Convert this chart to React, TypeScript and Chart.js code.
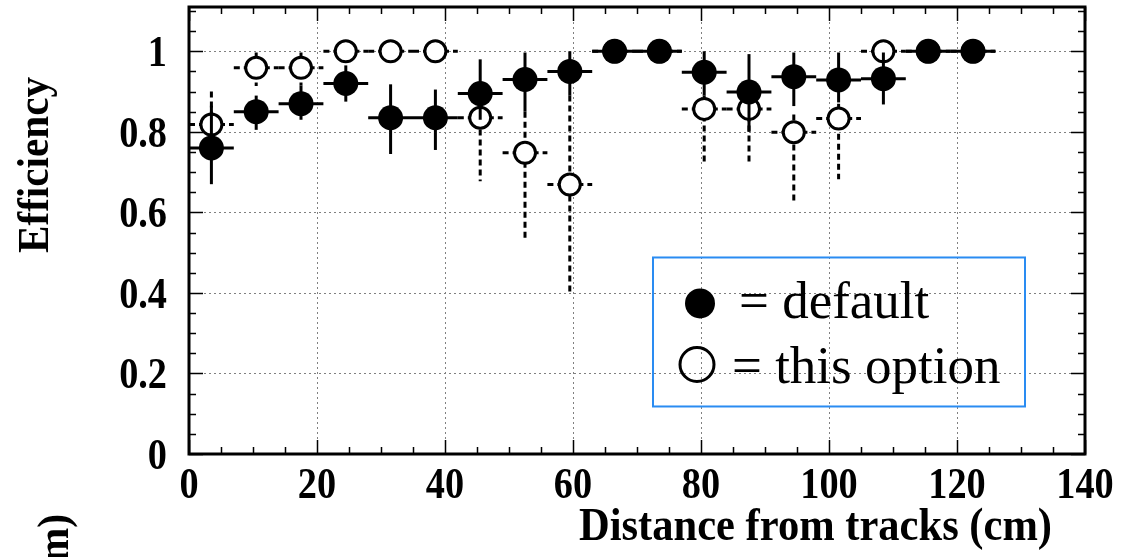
import { useEffect, useRef } from "react";
import { Chart, registerables } from "chart.js";

Chart.register(...registerables);

// ---- data ----
const BIN_CENTERS = [3.5, 10.5, 17.5, 24.5, 31.5, 38.5, 45.5, 52.5, 59.5, 66.5, 73.5, 80.5, 87.5, 94.5, 101.5, 108.5, 115.5, 122.5];
const BIN_HALF_WIDTH = 3.5;

const DEFAULT_EFF = [0.76, 0.85, 0.87, 0.92, 0.835, 0.835, 0.895, 0.93, 0.95, 1.0, 1.0, 0.948, 0.899, 0.937, 0.929, 0.932, 1.0, 1.0];
const DEFAULT_LOW = [0.67, 0.805, 0.83, 0.875, 0.745, 0.755, 0.83, 0.85, 0.89, 1.0, 1.0, 0.89, 0.8, 0.864, 0.873, 0.868, 1.0, 1.0];
const DEFAULT_HIGH = [0.865, 0.89, 0.915, 0.965, 0.918, 0.905, 0.98, 0.997, 1.0, 1.0, 1.0, 1.0, 0.993, 0.997, 0.997, 0.997, 1.0, 1.0];

const OPTION_EFF = [0.818, 0.959, 0.959, 1.0, 1.0, 1.0, 0.835, 0.748, 0.669, 1.0, 1.0, 0.857, 0.857, 0.799, 0.833, 1.0, 1.0, 1.0];
const OPTION_LOW = [0.73, 0.914, 0.915, 1.0, 1.0, 1.0, 0.677, 0.537, 0.395, 1.0, 1.0, 0.723, 0.724, 0.624, 0.682, 1.0, 1.0, 1.0];
const OPTION_HIGH = [0.9, 0.997, 0.997, 1.0, 1.0, 1.0, 0.88, 0.85, 0.89, 1.0, 1.0, 0.89, 0.89, 0.843, 0.87, 1.0, 1.0, 1.0];

const X_TICKS = [0, 20, 40, 60, 80, 100, 120, 140];
const Y_TICKS = [0, 0.2, 0.4, 0.6, 0.8, 1];
const X_MINOR_STEP = 5;
const Y_MINOR_STEP = 0.05;

const X_TITLE = "Distance from tracks (cm)";
const Y_TITLE = "Efficiency";
const CUT_TITLE = "(cm)";
const LEGEND_DEFAULT = "= default";
const LEGEND_OPTION = "= this option";

// ---- styles ----
const SERIF = '"Liberation Serif", "Times New Roman", serif';
const TICK_FONT = `bold 44px ${SERIF}`;
const TITLE_FONT = `bold 46px ${SERIF}`;
const YTITLE_FONT = `bold 45px ${SERIF}`;
const LEGEND_FONT = `53px ${SERIF}`;
const LEGEND_COLOR = "#2a8cf2";

function buildPoints(eff: number[], low: number[], high: number[]) {
  return BIN_CENTERS.map((x, i) => ({ x, y: eff[i], yMin: low[i], yMax: high[i] }));
}

function scaledText(ctx: CanvasRenderingContext2D, text: string, x: number, y: number, sx: number, align: CanvasTextAlign, rot = 0) {
  ctx.save();
  ctx.translate(x, y);
  if (rot) ctx.rotate(rot);
  ctx.scale(sx, 1);
  ctx.textAlign = align;
  ctx.textBaseline = "alphabetic";
  ctx.fillText(text, 0, 0);
  ctx.restore();
}

const rootStylePlugin = {
  id: "rootStyle",
  beforeDatasetsDraw(chart: any) {
    const { ctx, chartArea: a, scales } = chart;
    const xs = scales.x, ys = scales.y;
    ctx.save();
    ctx.strokeStyle = "#808080";
    ctx.lineWidth = 1;
    ctx.setLineDash([2, 3]);
    X_TICKS.forEach((v) => {
      const px = Math.round(xs.getPixelForValue(v)) + 0.5;
      ctx.beginPath();
      ctx.moveTo(px, a.top);
      ctx.lineTo(px, a.bottom);
      ctx.stroke();
    });
    Y_TICKS.forEach((v) => {
      const py = Math.round(ys.getPixelForValue(v)) + 0.5;
      ctx.beginPath();
      ctx.moveTo(a.left, py);
      ctx.lineTo(a.right, py);
      ctx.stroke();
    });
    ctx.restore();
  },
  beforeDatasetDraw(chart: any, args: any) {
    const ds = chart.data.datasets[args.index];
    const { ctx, scales } = chart;
    const xs = scales.x, ys = scales.y;
    ctx.save();
    ctx.strokeStyle = "#000";
    ctx.lineWidth = 3;
    ctx.setLineDash(ds.dashedErrors ? [6, 4] : []);
    ds.data.forEach((p: any) => {
      const px = xs.getPixelForValue(p.x);
      const py = ys.getPixelForValue(p.y);
      const pl = xs.getPixelForValue(p.x - BIN_HALF_WIDTH);
      const pr = xs.getPixelForValue(p.x + BIN_HALF_WIDTH);
      const pt = ys.getPixelForValue(p.yMax);
      const pb = ys.getPixelForValue(p.yMin);
      ctx.beginPath();
      ctx.moveTo(pl, py);
      ctx.lineTo(pr, py);
      ctx.stroke();
      if (pb - pt > 0.5) {
        ctx.beginPath();
        ctx.moveTo(px, pt);
        ctx.lineTo(px, pb);
        ctx.stroke();
      }
    });
    ctx.restore();
  },
  afterDraw(chart: any) {
    const { ctx, chartArea: a, scales } = chart;
    const xs = scales.x, ys = scales.y;
    ctx.save();
    ctx.fillStyle = "#000";
    ctx.strokeStyle = "#000";

    // inner ticks
    ctx.lineWidth = 1.5;
    ctx.setLineDash([]);
    for (let v = xs.min; v <= xs.max + 1e-9; v += X_MINOR_STEP) {
      const major = X_TICKS.some((t) => Math.abs(t - v) < 1e-6);
      const len = major ? 14 : 7;
      const px = Math.round(xs.getPixelForValue(v)) + 0.5;
      ctx.beginPath();
      ctx.moveTo(px, a.bottom);
      ctx.lineTo(px, a.bottom - len);
      ctx.moveTo(px, a.top);
      ctx.lineTo(px, a.top + len);
      ctx.stroke();
    }
    for (let v = ys.min; v <= ys.max + 1e-9; v += Y_MINOR_STEP) {
      const major = Y_TICKS.some((t) => Math.abs(t - v) < 1e-6);
      const len = major ? 14 : 7;
      const py = Math.round(ys.getPixelForValue(v)) + 0.5;
      ctx.beginPath();
      ctx.moveTo(a.left, py);
      ctx.lineTo(a.left + len, py);
      ctx.moveTo(a.right, py);
      ctx.lineTo(a.right - len, py);
      ctx.stroke();
    }

    // frame
    ctx.lineWidth = 3;
    ctx.strokeRect(a.left, a.top, a.right - a.left, a.bottom - a.top);

    // tick labels
    ctx.font = TICK_FONT;
    X_TICKS.forEach((v) => {
      scaledText(ctx, String(v), xs.getPixelForValue(v), a.bottom + 44, 0.87, "center");
    });
    Y_TICKS.forEach((v) => {
      scaledText(ctx, String(v), a.left - 22, ys.getPixelForValue(v) + 15, 0.87, "right");
    });

    // axis titles
    ctx.font = TITLE_FONT;
    scaledText(ctx, X_TITLE, a.right - 33, a.bottom + 86, 0.925, "right");
    ctx.font = YTITLE_FONT;
    scaledText(ctx, Y_TITLE, 48, 165, 0.915, "center", -Math.PI / 2);
    scaledText(ctx, CUT_TITLE, 68, 514, 0.92, "right", -Math.PI / 2);

    // legend
    const lx = xs.getPixelForValue(72.5);
    const ly = ys.getPixelForValue(0.488);
    const lw = 372, lh = 149;
    ctx.lineWidth = 2;
    ctx.strokeStyle = LEGEND_COLOR;
    ctx.strokeRect(lx, ly, lw, lh);
    ctx.fillStyle = "#000";
    ctx.beginPath();
    ctx.arc(lx + 47, ly + 46, 15, 0, Math.PI * 2);
    ctx.fill();
    ctx.strokeStyle = "#000";
    ctx.lineWidth = 3;
    ctx.beginPath();
    ctx.arc(lx + 44, ly + 107, 17, 0, Math.PI * 2);
    ctx.stroke();
    ctx.font = LEGEND_FONT;
    ctx.textAlign = "left";
    ctx.textBaseline = "alphabetic";
    ctx.fillText(LEGEND_DEFAULT, lx + 86, ly + 61);
    ctx.fillText(LEGEND_OPTION, lx + 79, ly + 126);
    ctx.restore();
  },
};

export default function App() {
  const ref = useRef<HTMLCanvasElement>(null);
  useEffect(() => {
    if (!ref.current) return;
    const chart = new Chart(ref.current, {
      type: "scatter",
      data: {
        datasets: [
          {
            label: "default",
            data: buildPoints(DEFAULT_EFF, DEFAULT_LOW, DEFAULT_HIGH),
            pointRadius: 12.5,
            pointBackgroundColor: "#000",
            pointBorderColor: "#000",
            pointBorderWidth: 0,
            showLine: false,
            dashedErrors: false,
          } as any,
          {
            label: "this option",
            data: buildPoints(OPTION_EFF, OPTION_LOW, OPTION_HIGH),
            pointRadius: 10.5,
            pointBackgroundColor: "#fff",
            pointBorderColor: "#000",
            pointBorderWidth: 3,
            showLine: false,
            dashedErrors: true,
          } as any,
        ],
      },
      options: {
        responsive: false,
        animation: false,
        devicePixelRatio: 1,
        layout: { autoPadding: false, padding: { top: 7, right: 48, left: 0, bottom: 0 } },
        plugins: { legend: { display: false }, tooltip: { enabled: false } },
        events: [],
        scales: {
          x: {
            type: "linear",
            min: 0,
            max: 140,
            grid: { display: false },
            border: { display: false },
            ticks: { display: false },
            afterBuildTicks: (s: any) => {
              s.ticks = X_TICKS.map((v) => ({ value: v }));
            },
            afterFit: (s: any) => {
              s.height = 103;
            },
          },
          y: {
            type: "linear",
            min: 0,
            max: 1.11,
            grid: { display: false },
            border: { display: false },
            ticks: { display: false },
            afterBuildTicks: (s: any) => {
              s.ticks = Y_TICKS.map((v) => ({ value: v }));
            },
            afterFit: (s: any) => {
              s.width = 189;
            },
          },
        },
      },
      plugins: [rootStylePlugin],
    });
    return () => chart.destroy();
  }, []);
  return (
    <div style={{ position: "fixed", left: 0, top: 0, width: 1133, height: 557, background: "#fff" }}>
      <canvas ref={ref} width={1133} height={557} style={{ display: "block" }} />
    </div>
  );
}
